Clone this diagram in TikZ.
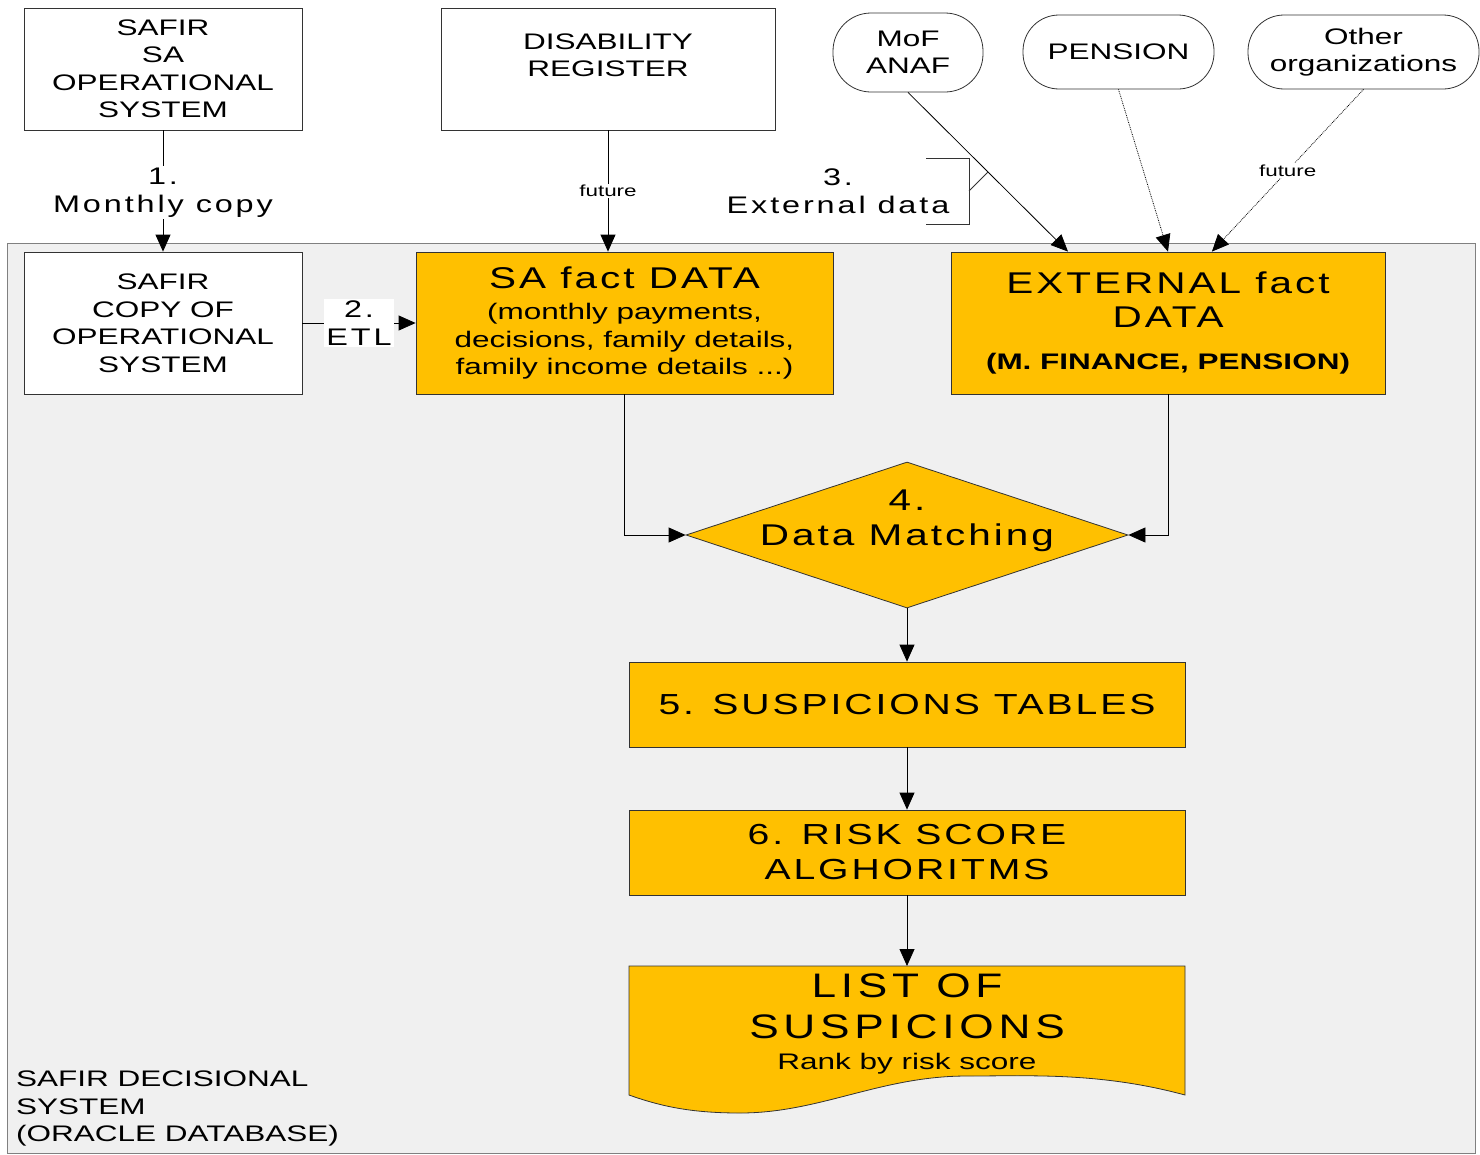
\documentclass[tikz,border=0pt]{standalone}
\usepackage{fontspec}
\setmainfont{Liberation Sans}
\newfontfamily\basef{Liberation Sans}[FakeStretch=1.4]
\newfontfamily\widef{Liberation Sans}[FakeStretch=1.3,LetterSpace=14]
\newfontfamily\midwf{Liberation Sans}[FakeStretch=1.35,LetterSpace=12]
\newfontfamily\bigwf{Liberation Sans}[FakeStretch=1.35,LetterSpace=10]
\usetikzlibrary{shapes.geometric,arrows.meta,calc}
\definecolor{gold}{HTML}{FFC000}
\definecolor{panelgray}{HTML}{F0F0F0}
\definecolor{edgegray}{HTML}{808080}
\newcommand\fbase{\basef\fontsize{22.5}{27.5}\selectfont}
\newcommand\fsmall{\basef\fontsize{16}{19}\selectfont}
\newcommand\fwide{\midwf\fontsize{24}{28}\selectfont}
\newcommand\fbig{\bigwf\fontsize{30}{34}\selectfont}
\newcommand\fmid{\bigwf\fontsize{29}{35}\selectfont}
\newcommand\fhuge{\widef\fontsize{34}{41}\selectfont}
\begin{document}
\begin{tikzpicture}[x=1pt,y=-1pt,
  whitebox/.style={draw=black!80, line width=0.8pt, fill=white, inner sep=0pt, align=center, font=\fbase},
  goldbox/.style={draw=black!80, line width=0.8pt, fill=gold, inner sep=0pt, align=center},
  source/.style={draw=black!80, line width=0.8pt, fill=white, rounded corners=36pt, inner sep=0pt, align=center, font=\fbase},
  arr/.style={draw=black, line width=0.8pt, -{Triangle[length=17pt,width=15pt]}},
  dotarr/.style={arr, densely dotted},
  lab/.style={fill=white, inner sep=1.5pt, align=center},
  txt/.style={inner sep=0pt, align=center},
]
\useasboundingbox (0,0) rectangle (1480,1154);
\fill[white] (0,0) rectangle (1480,1154);

% system panel
\node[draw=edgegray, line width=1pt, fill=panelgray, minimum width=1468pt, minimum height=910pt, inner sep=0pt] (sys) at (741,698) {};
\node[anchor=west, align=left, inner sep=0pt, font=\fbase] (syslabel) at (16,1108.5) {SAFIR DECISIONAL\\SYSTEM\\(ORACLE DATABASE)};

% top row
\node[whitebox, minimum width=278pt, minimum height=122pt] (sa) at (163,69) {SAFIR\\SA\\OPERATIONAL\\SYSTEM};
\node[whitebox, minimum width=334pt, minimum height=122pt] (dis) at (608,69) {};
\node[txt, font=\fbase] (distext) at (608,55.5) {DISABILITY\\REGISTER};
\node[source, minimum width=150pt, minimum height=79pt, rounded corners=38pt] (mof) at (908,52.5) {MoF\\ANAF};
\node[source, minimum width=191pt, minimum height=74pt] (pen) at (1118.5,52) {PENSION};
\node[source, minimum width=231pt, minimum height=74pt] (oth) at (1363.5,52) {Other\\organizations};

% second row
\node[whitebox, minimum width=278pt, minimum height=142pt] (copy) at (163,323) {SAFIR\\COPY OF\\OPERATIONAL\\SYSTEM};
\node[goldbox, minimum width=417pt, minimum height=142pt, font=\fbase] (fact) at (624.5,323) {\fbig SA fact DATA\\[3.5pt]\fbase (monthly payments,\\\fbase decisions, family details,\\\fbase family income details ...)};
\node[goldbox, minimum width=434pt, minimum height=142pt, font=\fbig] (ext) at (1168,323) {\fbig EXTERNAL fact\\\fbig DATA\\[8pt]\fbase\bfseries (M. FINANCE, PENSION)};

% matching
\node[diamond, draw=black!80, line width=0.8pt, fill=gold, minimum width=442pt, minimum height=146pt, inner sep=0pt] (dm) at (907,535) {};
\node[txt, font=\fbig] (dmtext) at (907,521) {4.\\[1pt]Data Matching};

\node[goldbox, minimum width=556pt, minimum height=85pt, font=\fmid] (sus) at (907,704.5) {5. SUSPICIONS TABLES};
\node[goldbox, minimum width=556pt, minimum height=85pt, font=\fmid] (risk) at (907,852.5) {6. RISK SCORE\\ALGHORITMS};

% list of suspicions (document shape)
\draw[draw=black!80, line width=0.8pt, fill=gold] (629,966) -- (1185,966) -- (1185,1095)
  .. controls (1100,1072) and (1030,1076) .. (967,1076)
  .. controls (880,1076) and (820,1113) .. (740,1113)
  .. controls (690,1113) and (660,1106) .. (629,1095) -- cycle;
\coordinate (lsttop) at (907,966);
\node[txt, font=\fhuge] (lst) at (907,1024.2) {LIST OF\\SUSPICIONS\\[-10.3pt]\fbase Rank by risk score};

% connectors
\coordinate (e1) at ($(ext.north west)!0.27!(ext.north east)$);
\coordinate (e3) at ($(ext.north west)!0.601!(ext.north east)$);
\draw[arr] (sa.south) -- node[lab, font=\fwide, yshift=-1.5pt]{1.\\Monthly copy} (copy.north);
\draw[arr] (copy.east) -- node[lab, font=\fwide, inner sep=2pt]{2.\\ETL} (fact.west);
\draw[arr] (dis.south) -- node[lab, font=\fsmall]{future} (dis.south |- fact.north);
\draw[arr] (mof.south) -- (e1);
\draw[dotarr] (pen.south) -- (ext.north);
\draw[dotarr] (oth.south) -- node[lab, font=\fsmall, pos=0.5]{future} (e3);
\draw[arr] (fact.south) |- (dm.west);
\draw[arr] (ext.south) |- (dm.east);
\draw[arr] (dm.south) -- (sus.north);
\draw[arr] (sus.south) -- (risk.north);
\draw[arr] (risk.south) -- (lsttop);

% external data annotation
\node[txt, font=\fwide] (extlabel) at (838,191.5) {3.\\External data};
\coordinate (mofmid) at ($(mof.south)!0.5!(e1)$);
\draw[line width=0.8pt, black!80] (926,158) -- (969,158) -- (969,224) -- (926,224);
\draw[line width=0.8pt, black!80] (969,191) -- (mofmid);
\end{tikzpicture}
\end{document}
